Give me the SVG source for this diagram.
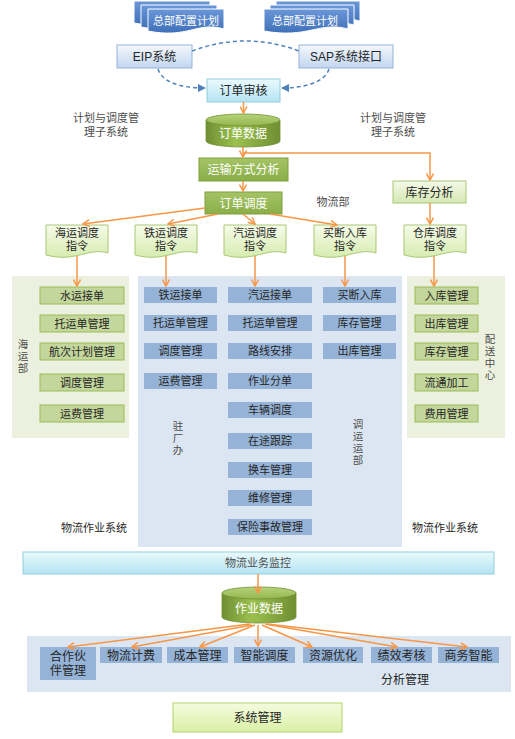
<svg xmlns="http://www.w3.org/2000/svg" width="515" height="739" viewBox="0 0 515 739">
<style>
text{font-family:"Liberation Sans","Noto Sans CJK SC",sans-serif;text-anchor:middle}
.t12{font-size:12px}
.t11{font-size:11px}
.v{font-size:10.5px;fill:#4d4d4d}
.dark{fill:#262626}
.gray{fill:#4d4d4d}
.white{fill:#ffffff}
.panelG{fill:#ebf1de}
.panelB{fill:#dce6f2}
.itemG{fill:#c3d69b;stroke:#9bbb59;stroke-width:1}
.itemB{fill:#95b3d7}
.gbox{fill:url(#gGreen);stroke:#7e9f3f;stroke-width:1}
.lgbox{fill:url(#gLightGreen);stroke:#a9c774;stroke-width:1}
.cyan{fill:url(#gCyan);stroke:#93cddd;stroke-width:1}
.bluebox{fill:url(#gBlueBox);stroke:#95b3d7;stroke-width:1}
.oa{fill:none;stroke:#f79646;stroke-width:1.5;marker-end:url(#mo)}
.da{fill:none;stroke:#4f81bd;stroke-width:1.5;stroke-dasharray:4 3}
</style>
<defs>
<linearGradient id="gBlueDoc" x1="0" y1="0" x2="0" y2="1"><stop offset="0" stop-color="#6a97d8"/><stop offset="1" stop-color="#3f70b8"/></linearGradient>
<linearGradient id="gBlueBox" x1="0" y1="0" x2="0" y2="1"><stop offset="0" stop-color="#f4f8fd"/><stop offset="1" stop-color="#c2d6f0"/></linearGradient>
<linearGradient id="gCyan" x1="0" y1="0" x2="0" y2="1"><stop offset="0" stop-color="#eafafd"/><stop offset="1" stop-color="#b4e3f2"/></linearGradient>
<linearGradient id="gGreen" x1="0" y1="0" x2="0" y2="1"><stop offset="0" stop-color="#a5c466"/><stop offset="1" stop-color="#8aae48"/></linearGradient>
<linearGradient id="gLightGreen" x1="0" y1="0" x2="0" y2="1"><stop offset="0" stop-color="#f4f9e8"/><stop offset="1" stop-color="#d5e8b3"/></linearGradient>
<linearGradient id="gDoc" x1="0" y1="0" x2="0" y2="1"><stop offset="0" stop-color="#f6fbe9"/><stop offset="1" stop-color="#d6ecb0"/></linearGradient>
<linearGradient id="gSys" x1="0" y1="0" x2="0" y2="1"><stop offset="0" stop-color="#f5fbdf"/><stop offset="1" stop-color="#daf0a6"/></linearGradient>
<linearGradient id="gCyl" x1="0" y1="0" x2="1" y2="0"><stop offset="0" stop-color="#6f8f32"/><stop offset="0.4" stop-color="#9cc04f"/><stop offset="1" stop-color="#6f8f32"/></linearGradient>
<linearGradient id="gCylTop" x1="0" y1="0" x2="0" y2="1"><stop offset="0" stop-color="#b7d37a"/><stop offset="1" stop-color="#93b64e"/></linearGradient>
<path id="docBlue" d="M0,0 H76 V20 C50,12 40,30 0,22 Z" fill="url(#gBlueDoc)" stroke="#ffffff" stroke-width="1"/>
<path id="docBlueR" d="M0,0 H84 V20 C56,12 44,30 0,22 Z" fill="url(#gBlueDoc)" stroke="#ffffff" stroke-width="1"/>
<path id="docGreen" d="M0,0 H62 V28 C42,22 30,38 0,30 Z" fill="url(#gDoc)" stroke="#a9c774" stroke-width="1"/>
<marker id="mo" viewBox="0 0 8 8" refX="7" refY="4" markerWidth="8" markerHeight="8" markerUnits="userSpaceOnUse" orient="auto"><path d="M0.5,0.5 L7,4 L0.5,7.5" fill="none" stroke="#f79646" stroke-width="1.5"/></marker>
<marker id="mb" viewBox="0 0 8 8" refX="7" refY="4" markerWidth="8" markerHeight="8" markerUnits="userSpaceOnUse" orient="auto"><path d="M0,0 L8,4 L0,8 Z" fill="#4f81bd"/></marker>
</defs>

<g id="panel-haiyun"><rect x="12" y="276" width="117" height="162" class="panelG"/></g>
<g id="panel-center"><rect x="138" y="276" width="264" height="271" class="panelB"/></g>
<g id="panel-peisong"><rect x="407" y="276" width="98" height="162" class="panelG"/></g>
<g id="panel-analysis"><rect x="27" y="636" width="484" height="56" class="panelB"/></g>

<g id="plan-left">
<use href="#docBlue" x="134" y="1"/>
<use href="#docBlue" x="141" y="5"/>
<use href="#docBlue" x="148" y="9"/>
<text x="186" y="25" class="t11 white">总部配置计划</text>
</g>
<g id="plan-right">
<use href="#docBlueR" x="276" y="1"/>
<use href="#docBlueR" x="270" y="5"/>
<use href="#docBlueR" x="264" y="9"/>
<text x="305" y="25" class="t11 white">总部配置计划</text>
</g>

<g id="eip"><rect x="117" y="45" width="75" height="23" class="bluebox"/><text x="154.5" y="61" class="t12 dark">EIP系统</text></g>
<g id="sap"><rect x="299" y="45" width="94" height="23" class="bluebox"/><text x="346" y="61" class="t12 dark">SAP系统接口</text></g>
<g id="order-audit"><rect x="207" y="79" width="73" height="23" class="cyan"/><text x="243.5" y="95" class="t12 dark">订单审核</text></g>

<g id="order-data">
<path d="M206,120 V141 A37,6 0 0 0 280,141 V120 Z" fill="url(#gCyl)" stroke="#6f8f32" stroke-width="0.8"/>
<ellipse cx="243" cy="120" rx="37" ry="6" fill="url(#gCylTop)" stroke="#6f8f32" stroke-width="0.8"/>
<text x="243" y="138" class="t12 white">订单数据</text>
</g>

<g id="label-plan-left"><text x="106" y="122" class="t11 gray">计划与调度管</text><text x="106" y="136" class="t11 gray">理子系统</text></g>
<g id="label-plan-right"><text x="393" y="122" class="t11 gray">计划与调度管</text><text x="393" y="136" class="t11 gray">理子系统</text></g>

<g id="transport-analysis"><rect x="199" y="158" width="89" height="23" class="gbox"/><text x="243.5" y="174" class="t12 white">运输方式分析</text></g>
<g id="order-dispatch"><rect x="205" y="192" width="77" height="22" class="gbox"/><text x="243.5" y="207.5" class="t12 white">订单调度</text></g>
<g id="label-wuliubu"><text x="333" y="206" class="t11 gray">物流部</text></g>
<g id="stock-analysis"><rect x="393" y="181" width="73" height="22" class="lgbox"/><text x="429.5" y="196.5" class="t12 dark">库存分析</text></g>

<g id="doc-haiyun"><use href="#docGreen" x="46" y="225"/><text x="77" y="237" class="t11 dark">海运调度</text><text x="77" y="250" class="t11 dark">指令</text></g>
<g id="doc-tieyun"><use href="#docGreen" x="135" y="225"/><text x="166" y="237" class="t11 dark">铁运调度</text><text x="166" y="250" class="t11 dark">指令</text></g>
<g id="doc-qiyun"><use href="#docGreen" x="224" y="225"/><text x="255" y="237" class="t11 dark">汽运调度</text><text x="255" y="250" class="t11 dark">指令</text></g>
<g id="doc-maiduan"><use href="#docGreen" x="314" y="225"/><text x="345" y="237" class="t11 dark">买断入库</text><text x="345" y="250" class="t11 dark">指令</text></g>
<g id="doc-cangku"><use href="#docGreen" x="404" y="225"/><text x="435" y="237" class="t11 dark">仓库调度</text><text x="435" y="250" class="t11 dark">指令</text></g>

<g id="hy-1"><rect x="40" y="287" width="84" height="17" class="itemG"/><text x="82" y="299.5" class="t11 dark">水运接单</text></g>
<g id="hy-2"><rect x="40" y="315" width="84" height="17" class="itemG"/><text x="82" y="327.5" class="t11 dark">托运单管理</text></g>
<g id="hy-3"><rect x="40" y="343" width="84" height="17" class="itemG"/><text x="82" y="355.5" class="t11 dark">航次计划管理</text></g>
<g id="hy-4"><rect x="40" y="374" width="84" height="17" class="itemG"/><text x="82" y="386.5" class="t11 dark">调度管理</text></g>
<g id="hy-5"><rect x="40" y="405" width="84" height="17" class="itemG"/><text x="82" y="417.5" class="t11 dark">运费管理</text></g>
<g id="label-haiyunbu"><text x="23" y="348" class="v">海</text><text x="23" y="360" class="v">运</text><text x="23" y="372" class="v">部</text></g>

<g id="ty-1"><rect x="144" y="287" width="73" height="16" class="itemB"/><text x="180.5" y="299" class="t11 dark">铁运接单</text></g>
<g id="ty-2"><rect x="144" y="315" width="73" height="16" class="itemB"/><text x="180.5" y="327" class="t11 dark">托运单管理</text></g>
<g id="ty-3"><rect x="144" y="343" width="73" height="16" class="itemB"/><text x="180.5" y="355" class="t11 dark">调度管理</text></g>
<g id="ty-4"><rect x="144" y="373" width="73" height="16" class="itemB"/><text x="180.5" y="385" class="t11 dark">运费管理</text></g>
<g id="label-zhuchangban"><text x="178" y="430" class="v">驻</text><text x="178" y="442" class="v">厂</text><text x="178" y="454" class="v">办</text></g>

<g id="qy-1"><rect x="228" y="287" width="84" height="16" class="itemB"/><text x="270" y="299" class="t11 dark">汽运接单</text></g>
<g id="qy-2"><rect x="228" y="315" width="84" height="16" class="itemB"/><text x="270" y="327" class="t11 dark">托运单管理</text></g>
<g id="qy-3"><rect x="228" y="343" width="84" height="16" class="itemB"/><text x="270" y="355" class="t11 dark">路线安排</text></g>
<g id="qy-4"><rect x="228" y="373" width="84" height="16" class="itemB"/><text x="270" y="385" class="t11 dark">作业分单</text></g>
<g id="qy-5"><rect x="228" y="402" width="84" height="16" class="itemB"/><text x="270" y="414" class="t11 dark">车辆调度</text></g>
<g id="qy-6"><rect x="228" y="433" width="84" height="16" class="itemB"/><text x="270" y="445" class="t11 dark">在途跟踪</text></g>
<g id="qy-7"><rect x="228" y="462" width="84" height="16" class="itemB"/><text x="270" y="474" class="t11 dark">换车管理</text></g>
<g id="qy-8"><rect x="228" y="490" width="84" height="16" class="itemB"/><text x="270" y="502" class="t11 dark">维修管理</text></g>
<g id="qy-9"><rect x="228" y="519" width="84" height="16" class="itemB"/><text x="270" y="531" class="t11 dark">保险事故管理</text></g>

<g id="md-1"><rect x="323" y="287" width="73" height="16" class="itemB"/><text x="359.5" y="299" class="t11 dark">买断入库</text></g>
<g id="md-2"><rect x="323" y="315" width="73" height="16" class="itemB"/><text x="359.5" y="327" class="t11 dark">库存管理</text></g>
<g id="md-3"><rect x="323" y="343" width="73" height="16" class="itemB"/><text x="359.5" y="355" class="t11 dark">出库管理</text></g>
<g id="label-diaoyunbu"><text x="358" y="428" class="v">调</text><text x="358" y="440" class="v">运</text><text x="358" y="452" class="v">运</text><text x="358" y="464" class="v">部</text></g>

<g id="ps-1"><rect x="415" y="287" width="63" height="17" class="itemG"/><text x="446.5" y="299.5" class="t11 dark">入库管理</text></g>
<g id="ps-2"><rect x="415" y="315" width="63" height="17" class="itemG"/><text x="446.5" y="327.5" class="t11 dark">出库管理</text></g>
<g id="ps-3"><rect x="415" y="343" width="63" height="17" class="itemG"/><text x="446.5" y="355.5" class="t11 dark">库存管理</text></g>
<g id="ps-4"><rect x="415" y="374" width="63" height="17" class="itemG"/><text x="446.5" y="386.5" class="t11 dark">流通加工</text></g>
<g id="ps-5"><rect x="415" y="405" width="63" height="17" class="itemG"/><text x="446.5" y="417.5" class="t11 dark">费用管理</text></g>
<g id="label-peisong"><text x="490" y="343" class="v">配</text><text x="490" y="355" class="v">送</text><text x="490" y="367" class="v">中</text><text x="490" y="379" class="v">心</text></g>

<g id="label-wlzy-left"><text x="94" y="532" class="t11 dark">物流作业系统</text></g>
<g id="label-wlzy-right"><text x="445" y="532" class="t11 dark">物流作业系统</text></g>

<g id="monitor"><rect x="23" y="552" width="471" height="22" class="cyan"/><text x="258" y="567" class="t11 gray">物流业务监控</text></g>

<g id="work-data">
<path d="M222,593 V617 A37,6 0 0 0 296,617 V593 Z" fill="url(#gCyl)" stroke="#6f8f32" stroke-width="0.8"/>
<ellipse cx="259" cy="593" rx="37" ry="6" fill="url(#gCylTop)" stroke="#6f8f32" stroke-width="0.8"/>
<text x="259" y="613" class="t12 white">作业数据</text>
</g>

<g id="an-1"><rect x="40" y="647" width="56" height="33" class="itemB"/><text x="68" y="661" class="t12 dark">合作伙</text><text x="68" y="675" class="t12 dark">伴管理</text></g>
<g id="an-2"><rect x="100" y="647" width="62" height="16" class="itemB"/><text x="131" y="659.5" class="t12 dark">物流计费</text></g>
<g id="an-3"><rect x="167" y="647" width="61" height="16" class="itemB"/><text x="197.5" y="659.5" class="t12 dark">成本管理</text></g>
<g id="an-4"><rect x="234" y="647" width="61" height="16" class="itemB"/><text x="264.5" y="659.5" class="t12 dark">智能调度</text></g>
<g id="an-5"><rect x="303" y="647" width="60" height="16" class="itemB"/><text x="333" y="659.5" class="t12 dark">资源优化</text></g>
<g id="an-6"><rect x="371" y="647" width="61" height="16" class="itemB"/><text x="401.5" y="659.5" class="t12 dark">绩效考核</text></g>
<g id="an-7"><rect x="438" y="647" width="61" height="16" class="itemB"/><text x="468.5" y="659.5" class="t12 dark">商务智能</text></g>
<g id="label-analysis"><text x="405" y="684" class="t12 dark">分析管理</text></g>

<g id="sys-mgmt"><rect x="173" y="703" width="169" height="29" fill="url(#gSys)" stroke="#b3d36a" stroke-width="1"/><text x="257.5" y="722" class="t12 dark">系统管理</text></g>

<g id="connectors">
<path class="da" d="M192,51 Q246,31 299,51"/>
<path class="da" d="M158,69 C162,82 180,88 205,88" marker-end="url(#mb)"/>
<path class="da" d="M329,69 C325,82 305,88 282,88" marker-end="url(#mb)"/>
<path class="oa" d="M243.5,102 V113"/>
<path class="oa" d="M243,147 V157"/>
<path class="oa" d="M243,153 H430 V180"/>
<path class="oa" d="M243,181 V191"/>
<path class="oa" d="M430,203 V224"/>
<path class="oa" d="M205,208 L83,224"/>
<path class="oa" d="M218,214 L168,224"/>
<path class="oa" d="M243,214 L255,224"/>
<path class="oa" d="M270,214 L337,225"/>
<path class="oa" d="M77,256 V286"/>
<path class="oa" d="M166,256 V286"/>
<path class="oa" d="M255,256 V286"/>
<path class="oa" d="M345,256 V286"/>
<path class="oa" d="M434,256 V286"/>
<path class="oa" d="M258,574 V593"/>
<path class="oa" d="M250,624 L68,647"/>
<path class="oa" d="M252,625 L132,647"/>
<path class="oa" d="M255,625 L200,647"/>
<path class="oa" d="M258,625 V646"/>
<path class="oa" d="M262,625 L312,647"/>
<path class="oa" d="M265,624 L397,647"/>
<path class="oa" d="M267,624 L467,647"/>
</g>
</svg>
